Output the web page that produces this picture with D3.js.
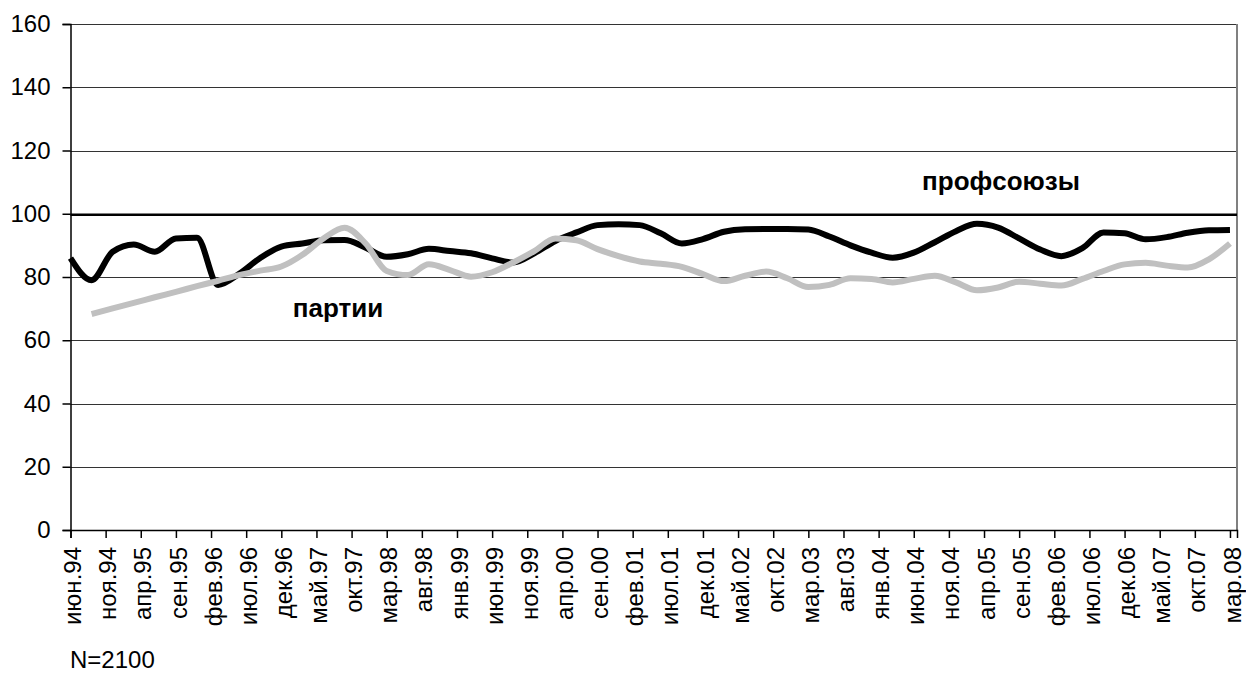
<!DOCTYPE html>
<html>
<head>
<meta charset="utf-8">
<script src="https://cdn.jsdelivr.net/npm/d3@7"></script>
<style>
  body { margin: 0; background: #fff; }
  svg { display: block; font-family: 'Liberation Sans', Arial, sans-serif; }
</style>
</head>
<body>
<div id="chart"></div>
<script>
// Month names for the category axis (one category per month, июн.94 .. апр.08)
var monthNames = ['янв', 'фев', 'мар', 'апр', 'май', 'июн', 'июл', 'авг', 'сен', 'окт', 'ноя', 'дек']
var firstYear = 1994
var firstMonth = 5 // июн
var monthCount = 167

// Readings taken every 3 months, starting at июн.94
var step = 3
var unions = [
  86, 79, 88, 90.3, 88, 92.2, 92.4, 77.5, 81, 86,
  89.6, 90.6, 91.6, 91.7, 89.3, 86.4, 87.2, 88.9, 88.2,
  87.5, 85.9, 84.6, 87.5, 91.4, 94.1, 96.4, 96.7, 96.4,
  93.8, 90.6, 92, 94.3, 95.1, 95.2, 95.2, 95, 92.8, 90,
  87.7, 86.1, 87.7, 91, 94.5, 96.8, 95.6, 92.2, 88.7,
  86.6, 89.1, 94.1, 93.8, 91.9, 92.6, 94, 94.8, 94.9
]
var parties = [
  null, 68.3, 70.1, 71.8, 73.6, 75.3, 77.1, 78.8, 80.6, 82,
  83.3, 87, 92.2, 95.6, 90.6, 81.9, 80.6, 84, 82.2,
  80.1, 81.5, 84.6, 88.2, 92.2, 91.6, 88.8, 86.6, 84.9,
  84.2, 83.2, 80.9, 78.7, 80.4, 81.7, 79.6, 76.8, 77.5, 79.6,
  79.4, 78.3, 79.4, 80.4, 78.3, 75.8, 76.7, 78.5, 77.9,
  77.3, 79.4, 81.9, 84, 84.5, 83.6, 83, 85.6, 90.6
]
var baseline = 100
var yTicks = [0, 20, 40, 60, 80, 100, 120, 140, 160]
var labelEvery = 5

// build month labels
var months = []
for (var i = 0; i < monthCount; i++) {
  var m = (firstMonth + i) % 12
  var yr = firstYear + Math.floor((firstMonth + i) / 12)
  months.push(monthNames[m] + '.' + String(yr % 100).padStart(2, '0'))
}
var tickMonths = months.filter((d, i) => i % labelEvery === 0 && i < monthCount - 1)

var totalWidth = 1246
var totalHeight = 674
var margin = { top: 24, left: 70.5, right: 9, bottom: 144 }
var width = totalWidth - margin.left - margin.right
var height = totalHeight - margin.top - margin.bottom

var svg = d3
  .select('#chart')
  .append('svg')
  .attr('width', totalWidth)
  .attr('height', totalHeight)
  .append('g')
  .attr('transform', 'translate(' + margin.left + ',' + margin.top + ')')

var xPositionScale = d3
  .scalePoint()
  .domain(months)
  .range([0, width])

var yPositionScale = d3
  .scaleLinear()
  .domain([0, 160])
  .range([height, 0])

// Gridlines
svg
  .selectAll('.grid')
  .data(yTicks.filter(d => d > 0))
  .enter()
  .append('line')
  .attr('class', 'grid')
  .attr('x1', 0)
  .attr('x2', width)
  .attr('y1', d => Math.round(yPositionScale(d)) + 0.5)
  .attr('y2', d => Math.round(yPositionScale(d)) + 0.5)
  .attr('stroke', '#333')
  .attr('stroke-width', 1)

// Right border of plot area
svg
  .append('line')
  .attr('x1', width)
  .attr('x2', width)
  .attr('y1', 0)
  .attr('y2', height)
  .attr('stroke', '#808080')
  .attr('stroke-width', 2)

// Level 100 line
svg
  .append('line')
  .attr('x1', 0)
  .attr('x2', width)
  .attr('y1', yPositionScale(baseline) + 1)
  .attr('y2', yPositionScale(baseline) + 1)
  .attr('stroke', '#000')
  .attr('stroke-width', 2.5)

// Axes
var yAxis = d3.axisLeft(yPositionScale).tickValues(yTicks).tickSize(8).tickPadding(12)
svg
  .append('g')
  .attr('class', 'axis y-axis')
  .call(yAxis)
  .call(g => g.selectAll('path, line').attr('stroke', '#000').attr('stroke-width', 1.5))
  .call(g => g.selectAll('text').attr('font-size', 24).attr('fill', '#000').attr('font-family', null))

var xAxis = d3.axisBottom(xPositionScale).tickValues(tickMonths).tickSize(8)
svg
  .append('g')
  .attr('class', 'axis x-axis')
  .attr('transform', 'translate(0,' + height + ')')
  .call(xAxis)
  .call(g => g.selectAll('path, line').attr('stroke', '#000').attr('stroke-width', 1.5))
  .call(g =>
    g
      .selectAll('text')
      .attr('font-size', 24)
      .attr('fill', '#000')
      .attr('font-family', null)
      .attr('text-anchor', 'end')
      .attr('transform', 'translate(0,17) rotate(-90)')
      .attr('x', 0)
      .attr('y', 0)
      .attr('dy', '0.42em')
  )

// Lines
var line = d3
  .line()
  .defined(d => d.value !== null)
  .x(d => xPositionScale(months[d.index]))
  .y(d => yPositionScale(d.value))
  .curve(d3.curveMonotoneX)

function toPoints(values) {
  return values
    .map((v, i) => ({ index: i * step, value: v }))
    .filter(d => d.value !== null)
}

svg
  .append('path')
  .datum(toPoints(unions))
  .attr('d', line)
  .attr('fill', 'none')
  .attr('stroke', '#000')
  .attr('stroke-width', 6)
  .attr('stroke-linejoin', 'round')

svg
  .append('path')
  .datum(toPoints(parties))
  .attr('d', line)
  .attr('fill', 'none')
  .attr('stroke', '#c0c0c0')
  .attr('stroke-width', 6)
  .attr('stroke-linejoin', 'round')

// Series labels
svg
  .append('text')
  .text('профсоюзы')
  .attr('x', 1001 - margin.left)
  .attr('y', 190 - margin.top)
  .attr('text-anchor', 'middle')
  .attr('font-size', 26)
  .attr('font-weight', 'bold')

svg
  .append('text')
  .text('партии')
  .attr('x', 338 - margin.left)
  .attr('y', 317 - margin.top)
  .attr('text-anchor', 'middle')
  .attr('font-size', 26)
  .attr('font-weight', 'bold')

// Sample size note
svg
  .append('text')
  .text('N=2100')
  .attr('x', 70 - margin.left)
  .attr('y', 668 - margin.top)
  .attr('font-size', 24)
</script>
</body>
</html>
